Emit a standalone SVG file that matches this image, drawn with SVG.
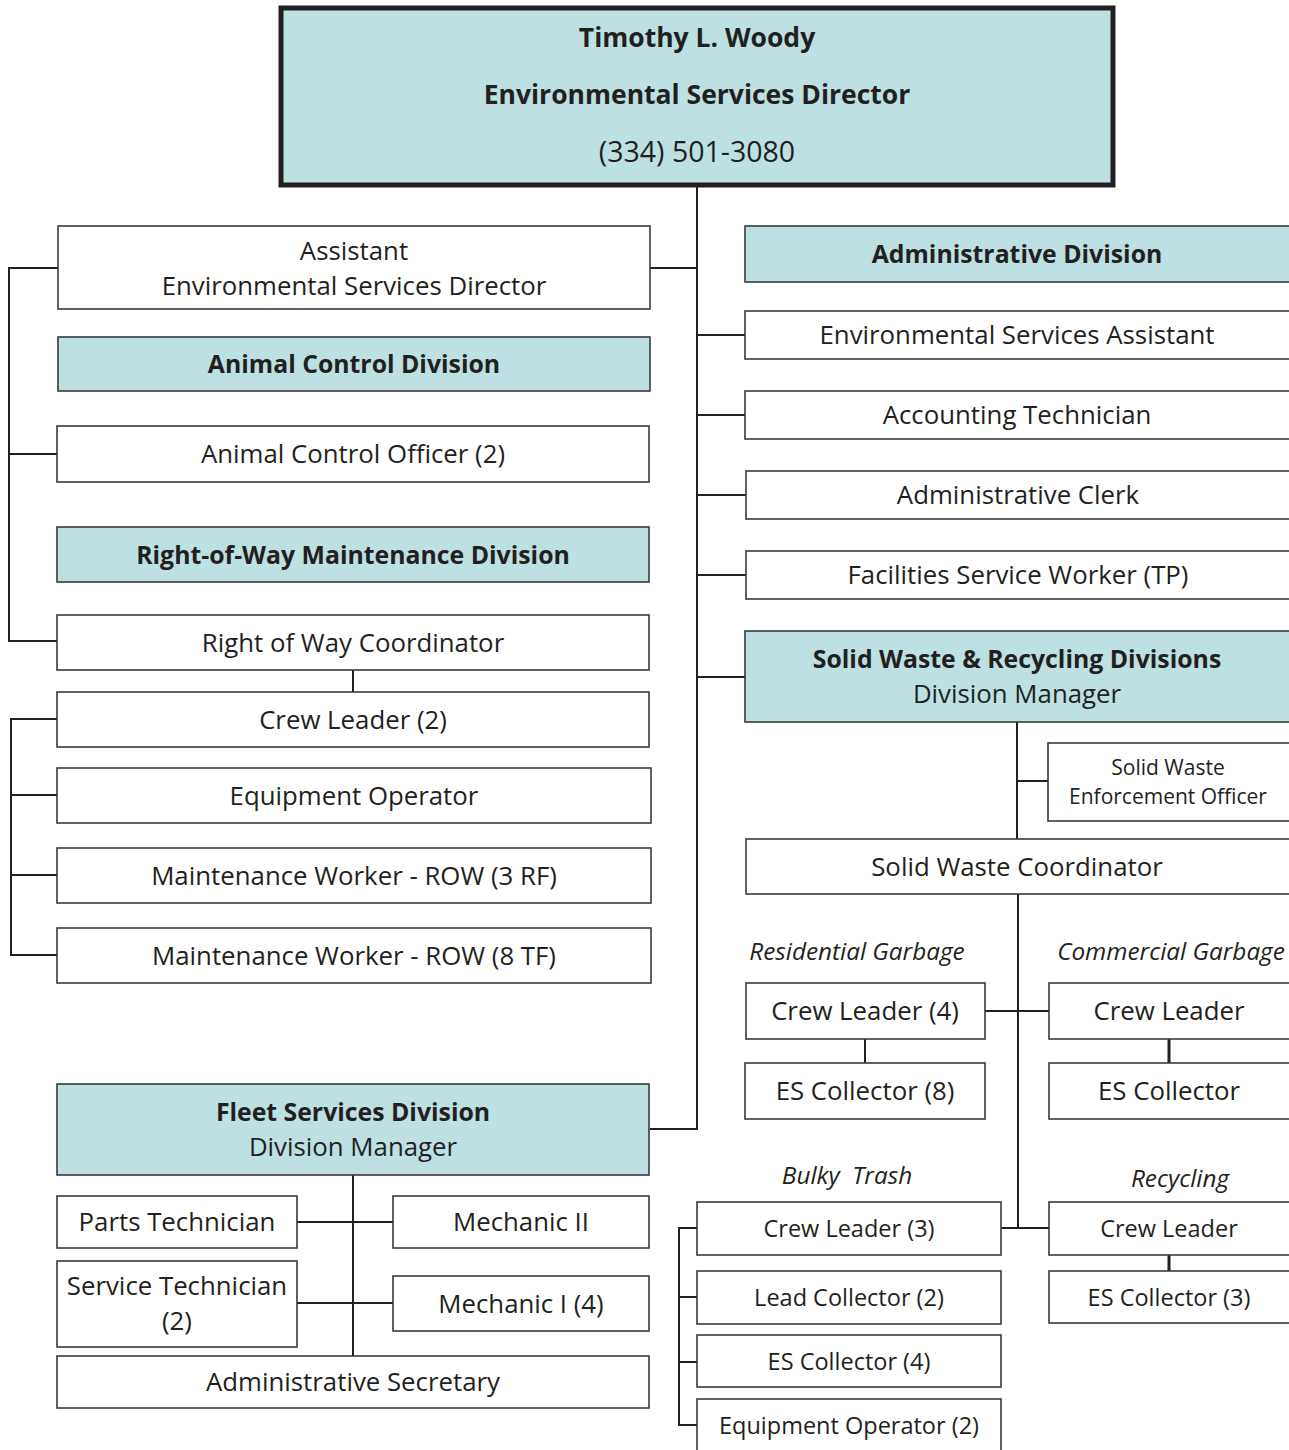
<svg xmlns="http://www.w3.org/2000/svg" width="1289" height="1450" viewBox="0 0 1289 1450">
  <style>
    .box { fill: #ffffff; stroke: #3a3a3a; stroke-width: 1.6; }
    .div { fill: #bde0e3; stroke: #3a3a3a; stroke-width: 1.6; }
    .top { fill: #bde0e3; stroke: #231f20; stroke-width: 5; }
    .t { font-family: "Open Sans", "Liberation Sans", sans-serif; font-size: 25.8px; fill: #231f20; text-anchor: middle; }
    .b { font-weight: bold; font-size: 24.8px; }
    .m { font-size: 23.5px; }
    .s { font-size: 21px; }
    .i { font-style: italic; font-size: 24.3px; }
    .h { font-size: 26.5px; }
    .ph { font-size: 28.5px; }
    .ln { fill: none; stroke: #231f20; stroke-width: 2; }
    .thk { stroke-width: 3; }
  </style>

  <!-- reporting lines -->
  <g id="connectors">
    <path class="ln" d="M697 187 V1129 H650"/>
    <path class="ln" d="M650 268 H697"/>
    <path class="ln" d="M697 335 H745 M697 415 H745 M697 495 H746 M697 575 H746 M697 677 H745"/>
    <path class="ln" d="M58 268 H9 V641 H57 M9 454 H57"/>
    <path class="ln" d="M353 670 V692"/>
    <path class="ln" d="M60 719 H11 V955 H57 M11 795 H57 M11 875 H57"/>
    <path class="ln" d="M1017 722 V839 M1017 781 H1048"/>
    <path class="ln" d="M1018 894 V1228"/>
    <path class="ln" d="M985 1011 H1049"/>
    <path class="ln" d="M865 1039 V1063"/>
    <path class="ln thk" d="M1169 1039 V1063"/>
    <path class="ln" d="M1001 1228 H1049"/>
    <path class="ln thk" d="M1169 1255 V1271"/>
    <path class="ln" d="M697 1228 H679 V1425 H697 M679 1297 H697 M679 1362 H697"/>
    <path class="ln" d="M353 1175 V1356 M297 1222 H393 M297 1303 H393"/>
  </g>

  <!-- director -->
  <g id="director">
    <rect class="top" x="281" y="8" width="832" height="177"/>
    <text class="t b h" x="697" y="47">Timothy L. Woody</text>
    <text class="t b h" x="697" y="104">Environmental Services Director</text>
    <text class="t ph" x="697" y="162">(334) 501-3080</text>
  </g>

  <!-- left column -->
  <g id="assistant-director">
    <rect class="box" x="58" y="226" width="592" height="83"/>
    <text class="t" x="354" y="260">Assistant</text>
    <text class="t" x="354" y="295">Environmental Services Director</text>
  </g>
  <g id="animal-control-division">
    <rect class="div" x="58" y="337" width="592" height="54"/>
    <text class="t b" x="354" y="373">Animal Control Division</text>
  </g>
  <g id="animal-control-officer">
    <rect class="box" x="57" y="426" width="592" height="56"/>
    <text class="t" x="353" y="463">Animal Control Officer (2)</text>
  </g>
  <g id="row-division">
    <rect class="div" x="57" y="527" width="592" height="55"/>
    <text class="t b" x="353" y="564">Right-of-Way Maintenance Division</text>
  </g>
  <g id="row-coordinator">
    <rect class="box" x="57" y="615" width="592" height="55"/>
    <text class="t" x="353" y="652">Right of Way Coordinator</text>
  </g>
  <g id="row-crew-leader">
    <rect class="box" x="57" y="692" width="592" height="55"/>
    <text class="t" x="353" y="729">Crew Leader (2)</text>
  </g>
  <g id="row-equipment-operator">
    <rect class="box" x="57" y="768" width="594" height="55"/>
    <text class="t" x="354" y="805">Equipment Operator</text>
  </g>
  <g id="row-worker-rf">
    <rect class="box" x="57" y="848" width="594" height="55"/>
    <text class="t" x="354" y="885">Maintenance Worker - ROW (3 RF)</text>
  </g>
  <g id="row-worker-tf">
    <rect class="box" x="57" y="928" width="594" height="55"/>
    <text class="t" x="354" y="965">Maintenance Worker - ROW (8 TF)</text>
  </g>

  <!-- fleet services -->
  <g id="fleet-division">
    <rect class="div" x="57" y="1084" width="592" height="91"/>
    <text class="t b" x="353" y="1121">Fleet Services Division</text>
    <text class="t" x="353" y="1156">Division Manager</text>
  </g>
  <g id="parts-technician">
    <rect class="box" x="57" y="1196" width="240" height="52"/>
    <text class="t" x="177" y="1231">Parts Technician</text>
  </g>
  <g id="mechanic-2">
    <rect class="box" x="393" y="1196" width="256" height="52"/>
    <text class="t" x="521" y="1231">Mechanic II</text>
  </g>
  <g id="service-technician">
    <rect class="box" x="57" y="1261" width="240" height="86"/>
    <text class="t" x="177" y="1295">Service Technician</text>
    <text class="t" x="177" y="1330">(2)</text>
  </g>
  <g id="mechanic-1">
    <rect class="box" x="393" y="1276" width="256" height="55"/>
    <text class="t" x="521" y="1313">Mechanic I (4)</text>
  </g>
  <g id="admin-secretary">
    <rect class="box" x="57" y="1356" width="592" height="52"/>
    <text class="t" x="353" y="1391">Administrative Secretary</text>
  </g>

  <!-- administrative division -->
  <g id="admin-division">
    <rect class="div" x="745" y="226" width="546" height="56"/>
    <text class="t b" x="1017" y="263">Administrative Division</text>
  </g>
  <g id="es-assistant">
    <rect class="box" x="745" y="311" width="546" height="48"/>
    <text class="t" x="1017" y="344">Environmental Services Assistant</text>
  </g>
  <g id="accounting-technician">
    <rect class="box" x="745" y="391" width="546" height="48"/>
    <text class="t" x="1017" y="424">Accounting Technician</text>
  </g>
  <g id="admin-clerk">
    <rect class="box" x="746" y="471" width="545" height="48"/>
    <text class="t" x="1018" y="504">Administrative Clerk</text>
  </g>
  <g id="facilities-worker">
    <rect class="box" x="746" y="551" width="545" height="48"/>
    <text class="t" x="1018" y="584">Facilities Service Worker (TP)</text>
  </g>

  <!-- solid waste & recycling -->
  <g id="solid-waste-division">
    <rect class="div" x="745" y="631" width="546" height="91"/>
    <text class="t b" x="1017" y="668">Solid Waste &amp; Recycling Divisions</text>
    <text class="t" x="1017" y="703">Division Manager</text>
  </g>
  <g id="enforcement-officer">
    <rect class="box" x="1048" y="743" width="243" height="78"/>
    <text class="t s" x="1168" y="775">Solid Waste</text>
    <text class="t s" x="1168" y="804">Enforcement Officer</text>
  </g>
  <g id="sw-coordinator">
    <rect class="box" x="746" y="839" width="545" height="55"/>
    <text class="t" x="1017" y="876">Solid Waste Coordinator</text>
  </g>

  <g id="residential">
    <text class="t i" x="857" y="960">Residential Garbage</text>
    <rect class="box" x="746" y="983" width="239" height="56"/>
    <text class="t" x="865" y="1020">Crew Leader (4)</text>
    <rect class="box" x="745" y="1063" width="240" height="56"/>
    <text class="t" x="865" y="1100">ES Collector (8)</text>
  </g>
  <g id="commercial">
    <text class="t i" x="1171" y="960">Commercial Garbage</text>
    <rect class="box" x="1049" y="983" width="242" height="56"/>
    <text class="t" x="1169" y="1020">Crew Leader</text>
    <rect class="box" x="1049" y="1063" width="242" height="56"/>
    <text class="t" x="1169" y="1100">ES Collector</text>
  </g>

  <g id="bulky-trash">
    <text class="t i" x="847" y="1184" xml:space="preserve">Bulky  Trash</text>
    <rect class="box" x="697" y="1202" width="304" height="53"/>
    <text class="t m" x="849" y="1237">Crew Leader (3)</text>
    <rect class="box" x="697" y="1271" width="304" height="53"/>
    <text class="t m" x="849" y="1306">Lead Collector (2)</text>
    <rect class="box" x="697" y="1335" width="304" height="52"/>
    <text class="t m" x="849" y="1370">ES Collector (4)</text>
    <rect class="box" x="697" y="1399" width="304" height="60"/>
    <text class="t m" x="849" y="1434">Equipment Operator (2)</text>
  </g>
  <g id="recycling">
    <text class="t i" x="1180" y="1187">Recycling</text>
    <rect class="box" x="1049" y="1202" width="242" height="53"/>
    <text class="t m" x="1169" y="1237">Crew Leader</text>
    <rect class="box" x="1049" y="1271" width="242" height="52"/>
    <text class="t m" x="1169" y="1306">ES Collector (3)</text>
  </g>
</svg>
